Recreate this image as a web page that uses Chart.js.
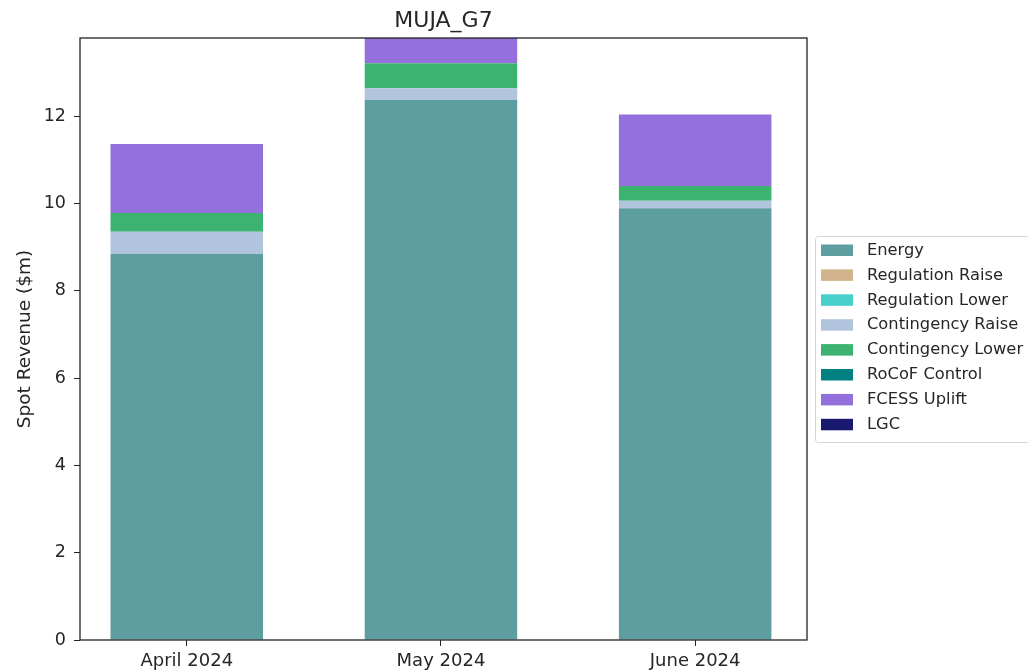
<!DOCTYPE html>
<html>
<head>
<meta charset="utf-8">
<script src="https://cdn.jsdelivr.net/npm/chart.js@4/dist/chart.umd.min.js"></script>
<style>
  html, body { margin: 0; padding: 0; background: #fff; }
  #wrap { width: 1028px; height: 670px; position: relative; }
</style>
</head>
<body>
<div id="wrap"><canvas id="chart" width="1028" height="670"></canvas></div>
<script>
// Months on the x axis
const months = ['April 2024', 'May 2024', 'June 2024'];

// Revenue by service ($m)
const energy = [8.84, 12.37, 9.89];
const regulationRaise = [0, 0, 0];
const regulationLower = [0, 0, 0];
const contingencyRaise = [0.51, 0.27, 0.17];
const contingencyLower = [0.43, 0.57, 0.34];
const rocofControl = [0, 0, 0];
const fcessUplift = [1.58, 1.62, 1.64];
const lgc = [0, 0, 0];

const yTicks = [0, 2, 4, 6, 8, 10, 12];

const series = [
    ['Energy', energy, '#5F9EA0'],
    ['Regulation Raise', regulationRaise, '#D2B48C'],
    ['Regulation Lower', regulationLower, '#48D1CC'],
    ['Contingency Raise', contingencyRaise, '#B0C4DE'],
    ['Contingency Lower', contingencyLower, '#3CB371'],
    ['RoCoF Control', rocofControl, '#008080'],
    ['FCESS Uplift', fcessUplift, '#9370DB'],
    ['LGC', lgc, '#191970']
];

const FONT = "'DejaVu Sans', sans-serif";
const TEXT = '#262626';

// frame, title and legend drawn like the matplotlib original
const framePlugin = {
    id: 'frame',
    afterDraw(chart) {
        const ctx = chart.ctx;
        const a = chart.chartArea;
        ctx.save();
        ctx.strokeStyle = '#222';
        ctx.lineWidth = 1.3;
        ctx.strokeRect(a.left, a.top, a.right - a.left, a.bottom - a.top);

        // title
        ctx.fillStyle = TEXT;
        ctx.font = '22px ' + FONT;
        ctx.textAlign = 'center';
        ctx.textBaseline = 'middle';
        ctx.fillText('MUJA_G7', (a.left + a.right) / 2, 21);

        // legend
        const lx = 815, ly = 236, lw = 230, lh = 206;
        ctx.fillStyle = 'rgba(255,255,255,0.8)';
        ctx.strokeStyle = '#d4d4d4';
        ctx.lineWidth = 1;
        ctx.beginPath();
        ctx.roundRect(lx + 0.5, ly + 0.5, lw, lh, 3);
        ctx.fill();
        ctx.stroke();
        ctx.font = '16.3px ' + FONT;
        ctx.textAlign = 'left';
        chart.data.datasets.forEach((ds, i) => {
            const cy = 250.5 + i * 24.9;
            ctx.fillStyle = ds.backgroundColor;
            ctx.fillRect(821, cy - 6, 32, 11.5);
            ctx.fillStyle = TEXT;
            ctx.fillText(ds.label, 867, cy);
        });
        ctx.restore();
    }
};

new Chart(document.getElementById('chart'), {
    type: 'bar',
    data: {
        datasets: series.map(([label, values, color]) => ({
            label: label,
            data: values.map((v, i) => ({ x: i, y: v })),
            backgroundColor: color,
            borderWidth: 0,
            categoryPercentage: 0.6,
            barPercentage: 1
        }))
    },
    options: {
        responsive: false,
        animation: false,
        layout: { padding: { left: 0, right: 221, top: 38, bottom: 0 } },
        plugins: {
            legend: { display: false },
            title: { display: false },
            tooltip: { enabled: false }
        },
        scales: {
            x: {
                type: 'linear',
                stacked: true,
                offset: false,
                min: -0.42,
                max: 2.44,
                afterBuildTicks: axis => { axis.ticks = months.map((m, i) => ({ value: i })); },
                afterFit: axis => { axis.height = 30; },
                border: { display: false },
                grid: { offset: false, drawOnChartArea: false, drawTicks: true, tickLength: 6, color: '#222' },
                ticks: {
                    callback: v => months[v],
                    color: TEXT,
                    font: { family: FONT, size: 18 },
                    padding: 5,
                    maxRotation: 0,
                    autoSkip: false
                }
            },
            y: {
                stacked: true,
                min: 0,
                max: 13.79,
                afterBuildTicks: axis => { axis.ticks = yTicks.map(v => ({ value: v })); },
                afterFit: axis => { axis.width = 80; },
                border: { display: false },
                grid: { drawOnChartArea: false, drawTicks: true, tickLength: 6, color: '#222' },
                ticks: {
                    color: TEXT,
                    font: { family: FONT, size: 17.5 },
                    padding: 8
                },
                title: {
                    display: true,
                    text: 'Spot Revenue ($m)',
                    color: TEXT,
                    font: { family: FONT, size: 18.5 },
                    padding: { top: 14, bottom: 0 }
                }
            }
        }
    },
    plugins: [framePlugin]
});
</script>
</body>
</html>
